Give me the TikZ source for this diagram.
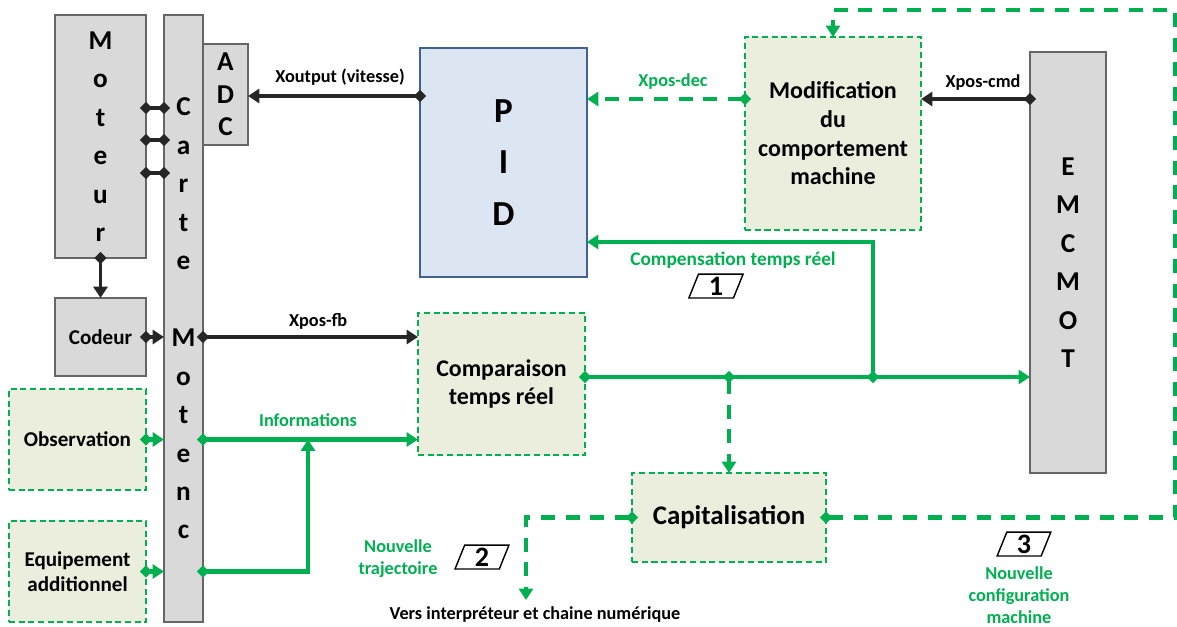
\documentclass[tikz,border=0pt]{standalone}
\usepackage{fontspec}
\setmainfont{Carlito}
\usetikzlibrary{arrows.meta,shapes.geometric}
\definecolor{vert}{HTML}{00B050}
\definecolor{vertclair}{HTML}{EBEEDD}
\definecolor{gris}{HTML}{D9D9D9}
\definecolor{grisbord}{HTML}{666666}
\definecolor{bleu}{HTML}{DCE6F2}
\definecolor{bleubord}{HTML}{41628F}
\definecolor{fonce}{HTML}{262626}
\begin{document}
\begin{tikzpicture}[x=0.02cm, y=-0.02cm, font=\bfseries]
    \tikzset{
      hw/.style={draw=grisbord, fill=gris, line width=1.5pt, inner sep=0pt, outer sep=0pt, align=center,
        font=\fontsize{15.5}{21.9}\selectfont\bfseries},
      sw/.style={draw=vert, fill=vertclair, line width=1.2pt, dash pattern=on 3.5pt off 2pt,
        inner sep=0pt, outer sep=0pt, align=center},
      dline/.style={draw=fonce, line width=2pt, shorten <=-3.5pt,
        {Diamond[length=7pt,width=7pt]}-{Triangle[length=6.5pt,width=8pt]}},
      gline/.style={draw=vert, line width=2.4pt, shorten <=-3.5pt,
        {Diamond[length=7pt,width=7pt]}-{Triangle[length=6.5pt,width=8pt]}},
      gdash/.style={gline, dash pattern=on 8pt off 6pt},
      lbl/.style={align=center, font=\fontsize{10.4}{12.5}\selectfont\bfseries},
      glbl/.style={lbl, text=vert},
      numbox/.style={draw=black, fill=white, line width=0.8pt, trapezium, trapezium left angle=68,
        trapezium right angle=112, minimum height=13.6pt, inner xsep=5pt, inner ysep=1pt,
        font=\fontsize{16}{16}\selectfont\bfseries}
    }
    \useasboundingbox (0,0) rectangle (1177,626);
    % materiel
    \node[hw, minimum width=1.82cm, minimum height=4.86cm] (moteur) at (100.5,136.5) {M\\o\\t\\e\\u\\r};
    \node[hw, minimum width=0.78cm, minimum height=12.14cm] (carte) at (183.5,318.5)
      {C\\a\\r\\t\\e\\\mbox{}\\M\\o\\t\\e\\n\\c};
    \node[hw, minimum width=0.9cm, minimum height=2.02cm, font=\fontsize{15.5}{18.4}\selectfont\bfseries]
      (adc) at (225.5,94.5) {A\\D\\C};
    \node[hw, minimum width=1.82cm, minimum height=1.56cm, font=\fontsize{12}{13}\selectfont\bfseries]
      (codeur) at (100.5,337) {Codeur};
    \node[hw, minimum width=1.52cm, minimum height=8.42cm] (emcmot) at (1068,262.5) {E\\M\\C\\M\\O\\T};
    \node[hw, draw=bleubord, fill=bleu, minimum width=3.34cm, minimum height=4.58cm,
      font=\fontsize{20}{29.2}\selectfont\bfseries] (pid) at (503.5,162.5) {P\\I\\D};
    % blocs ajoutes
    \node[sw, minimum width=2.74cm, minimum height=2.02cm, font=\fontsize{12}{14.2}\selectfont\bfseries]
      (obs) at (77.5,439.5) {Observation};
    \node[sw, minimum width=2.74cm, minimum height=2.02cm, font=\fontsize{12}{14.2}\selectfont\bfseries]
      (equip) at (77.5,571.5) {Equipement\\additionnel};
    \node[sw, minimum width=3.52cm, minimum height=3.86cm, font=\fontsize{13.7}{16.3}\selectfont\bfseries]
      (modif) at (833,133.5) {Modification\\du\\comportement\\machine};
    \node[sw, minimum width=3.34cm, minimum height=2.84cm, font=\fontsize{13.6}{15.9}\selectfont\bfseries]
      (comp) at (501.5,384) {Comparaison\\temps réel};
    \node[sw, minimum width=3.88cm, minimum height=1.78cm, font=\fontsize{15.3}{16}\selectfont\bfseries]
      (capit) at (729,517.5) {Capitalisation};
    % points de passage
    \coordinate (yout) at (0,96);
    \coordinate (ydec) at (0,99);
    \coordinate (ycomp) at (0,242);
    \coordinate (ymain) at (0,377);
    \coordinate (jcomp) at (873,377);
    \coordinate (jinfo) at (308,439.5);
    \coordinate (jtraj) at (526,600);
    \coordinate (jconf) at (1175,10);
    % liaisons moteur / carte
    \foreach \y in {108,140,173}{
      \coordinate (ylink) at (0,\y);
      \draw[dline, shorten >=-3.5pt, {Diamond[length=7pt,width=7pt]}-{Diamond[length=7pt,width=7pt]}]
        (moteur.east |- ylink) -- (carte.west |- ylink);
    }
    \draw[dline] (moteur.south) -- (codeur.north);
    \draw[dline] (codeur.east) -- (carte.west |- codeur.east);
    \draw[dline] (carte.east |- codeur.east) -- (comp.west |- codeur.east);
    \draw[dline] (pid.west |- yout) -- (adc.east |- yout);
    \draw[dline] (emcmot.west |- ydec) -- (modif.east |- ydec);
    % flux verts
    \draw[gline] (obs.east) -- (carte.west |- obs.east);
    \draw[gline] (equip.east) -- (carte.west |- equip.east);
    \draw[gline] (carte.east |- obs.east) -- (comp.west |- obs.east);
    \draw[gline] (carte.east |- equip.east) -| (jinfo);
    \draw[gline] (comp.east |- ymain) -- (emcmot.west |- ymain);
    \draw[gline] (jcomp) |- (pid.east |- ycomp);
    \draw[gdash] (modif.west |- ydec) -- (pid.east |- ydec);
    \draw[gdash] (capit.north |- ymain) -- (capit.north);
    \draw[gdash] (capit.west) -| (jtraj);
    \draw[gdash] (capit.east) -| (jconf) -| (modif.north);
    % textes
    \node[lbl] (lblout) at (340,77) {Xoutput (vitesse)};
    \node[lbl] (lblfb) at (318,321) {Xpos-fb};
    \node[lbl] (lblcmd) at (983,83) {Xpos-cmd};
    \node[glbl] (lbldec) at (673,82) {Xpos-dec};
    \node[glbl] (lblinfo) at (308,420) {Informations};
    \node[glbl, font=\fontsize{11}{12.5}\selectfont\bfseries] (lblcomp) at (733,260) {Compensation temps réel};
    \node[glbl] (lbltraj) at (398,559) {Nouvelle\\trajectoire};
    \node[glbl] (lblconf) at (1019,595) {Nouvelle\\configuration\\machine};
    \node[lbl] (lblvers) at (535,615) {Vers interpréteur et chaine numérique};
    \node[numbox] (num1) at (716,286) {1};
    \node[numbox] (num2) at (482,557) {2};
    \node[numbox] (num3) at (1024,544) {3};
\end{tikzpicture}
\end{document}
